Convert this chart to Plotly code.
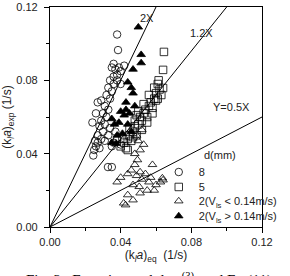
import plotly.graph_objects as go

# ---- data ----
c8_x = [0.0245,0.025,0.026,0.027,0.0255,0.028,0.029,0.027,0.030,0.028,0.031,0.029,0.032,0.030,0.027,0.029,
        0.031,0.033,0.034,0.032,0.035,0.036,0.034,0.036,0.038,0.037,0.039,0.035,0.036,0.040,0.042,0.038,
        0.040,0.033,0.038,0.0385,0.0328,0.035,0.036,0.035,0.033,0.031,0.038,0.040,0.037,0.034,0.026,0.024]
c8_y = [0.039,0.042,0.044,0.046,0.047,0.043,0.048,0.050,0.052,0.055,0.056,0.058,0.060,0.062,0.068,0.069,
        0.066,0.064,0.070,0.072,0.074,0.078,0.080,0.082,0.083,0.086,0.087,0.087,0.089,0.085,0.088,0.080,
        0.078,0.076,0.105,0.0965,0.0327,0.0327,0.046,0.044,0.050,0.047,0.048,0.045,0.052,0.054,0.062,0.057]

s5_x = [0.040,0.042,0.043,0.044,0.045,0.046,0.047,0.045,0.048,0.049,0.050,0.048,0.051,0.052,0.053,0.050,
        0.054,0.055,0.056,0.053,0.057,0.058,0.059,0.056,0.060,0.061,0.062,0.059,0.061,0.0615,0.064,0.0645,
        0.052,0.055,0.047,0.049,0.058,0.063,0.044,0.041,0.064,0.060]
s5_y = [0.044,0.046,0.043,0.048,0.050,0.047,0.052,0.054,0.055,0.050,0.056,0.058,0.060,0.058,0.062,0.063,
        0.064,0.060,0.066,0.067,0.068,0.065,0.070,0.072,0.073,0.070,0.075,0.076,0.078,0.080,0.0857,0.0955,
        0.053,0.057,0.049,0.061,0.062,0.072,0.042,0.048,0.0758,0.069]

t2lo_x = [0.0417,0.0428,0.044,0.047,0.047,0.049,0.038,0.040,0.044,0.048,0.048,0.051,0.058,0.0505,0.051,0.055,
          0.059,0.0625,0.0636,0.056,0.060,0.064,0.052,0.054,0.050,0.049,0.052,0.0495,0.046,0.053,0.051,0.057]
t2lo_y = [0.013,0.012,0.0175,0.0147,0.023,0.028,0.0245,0.027,0.029,0.034,0.040,0.042,0.034,0.022,0.0185,0.020,
          0.020,0.0245,0.0267,0.0245,0.023,0.0256,0.026,0.029,0.047,0.050,0.053,0.0366,0.031,0.045,0.030,0.027]

t2hi_x = [0.050,0.0516,0.0516,0.047,0.046,0.044,0.047,0.043,0.043,0.042,0.045,0.035,0.0365,0.039,0.041,0.046,
          0.035,0.038,0.048,0.040,0.044,0.0375]
t2hi_y = [0.109,0.094,0.0895,0.086,0.076,0.079,0.073,0.068,0.064,0.061,0.062,0.059,0.056,0.057,0.051,0.052,
          0.046,0.050,0.066,0.063,0.056,0.0455]

line_slopes = [2.0, 1.2, 0.5]
line_labels = ["2X", "1.2X", "Y=0.5X"]
legend_names = ["8", "5", "2(V<sub>ls</sub> < 0.14m/s)", "2(V<sub>ls</sub> > 0.14m/s)"]
ticks = [0.00, 0.04, 0.08, 0.12]
tick_text = ["0.00", "0.04", "0.08", "0.12"]

FONT = "Liberation Sans, Arial, sans-serif"
TXT = "#222"

fig = go.Figure()

# reference lines
for s in line_slopes:
    xe = min(0.12, 0.12 / s)
    fig.add_trace(go.Scatter(x=[0, xe], y=[0, s * xe], mode="lines",
                             line=dict(color="black", width=1), showlegend=False, hoverinfo="skip"))

mk = dict(size=7.5, line=dict(color="black", width=0.8))
series = [
    (c8_x, c8_y, "circle-open", "legend"),
    (s5_x, s5_y, "square-open", "legend2"),
    (t2lo_x, t2lo_y, "triangle-up-open", "legend3"),
    (t2hi_x, t2hi_y, "triangle-up", "legend4"),
]
for (xs, ys, sym, lg), nm in zip(series, legend_names):
    fig.add_trace(go.Scatter(x=xs, y=ys, mode="markers", name=nm, legend=lg,
                             marker=dict(symbol=sym, color="black", **mk)))

# line labels
lab_pos = [(0.0548, 0.1140), (0.0860, 0.1058), (0.1028, 0.0655)]
for (lx, ly), t in zip(lab_pos, line_labels):
    fig.add_annotation(x=lx, y=ly, text=t, showarrow=False,
                       font=dict(family=FONT, size=11, color=TXT))
fig.add_annotation(x=0.0965, y=0.0393, text="d(mm)", showarrow=False,
                   font=dict(family=FONT, size=11, color=TXT))

# caption (partially cut off in the reference)
fig.add_annotation(xref="paper", yref="paper", x=-0.125, y=-0.185, xanchor="left", yanchor="top",
                   text="Fig. 2   Experimental data<sup>(3)</sup>  and Eq.(11)", showarrow=False,
                   font=dict(family="Liberation Serif, Times New Roman, serif", size=15, color="black"))

axis_common = dict(range=[0, 0.12], tickvals=ticks, ticktext=tick_text, ticks="outside", ticklen=5,
                   tickwidth=1, tickcolor="black", showline=True, linecolor="black", linewidth=1.2,
                   mirror=True, showgrid=False, zeroline=False, automargin=False,
                   tickfont=dict(family=FONT, size=11, color=TXT),
                   minor=dict(dtick=0.02, ticks="outside", ticklen=3, tickcolor="black", showgrid=False))

fig.update_xaxes(**axis_common,
                 title=dict(text="(k<sub><i>l</i></sub><i>a</i>)<sub>eq</sub>  (1/s)",
                            font=dict(family=FONT, size=12, color=TXT), standoff=1))
fig.update_yaxes(**axis_common, ticklabelstandoff=4,
                 title=dict(text="(k<sub><i>l</i></sub><i>a</i>)<sub>exp</sub> (1/s)",
                            font=dict(family=FONT, size=12, color=TXT), standoff=2))

leg_rows = [0.25, 0.182, 0.118, 0.05]
leg_common = dict(x=0.513, xanchor="left", yanchor="middle", bgcolor="rgba(0,0,0,0)",
                  font=dict(family=FONT, size=11, color=TXT), itemwidth=30)
layout_legs = {}
for i, yv in enumerate(leg_rows):
    key = "legend" if i == 0 else f"legend{i+1}"
    layout_legs[key] = dict(y=yv, **leg_common)

fig.update_layout(
    width=290, height=276,
    margin=dict(l=50, r=11, t=7, b=49),
    paper_bgcolor="white", plot_bgcolor="white",
    showlegend=True,
    **layout_legs,
)

fig.write_html("out.html")
